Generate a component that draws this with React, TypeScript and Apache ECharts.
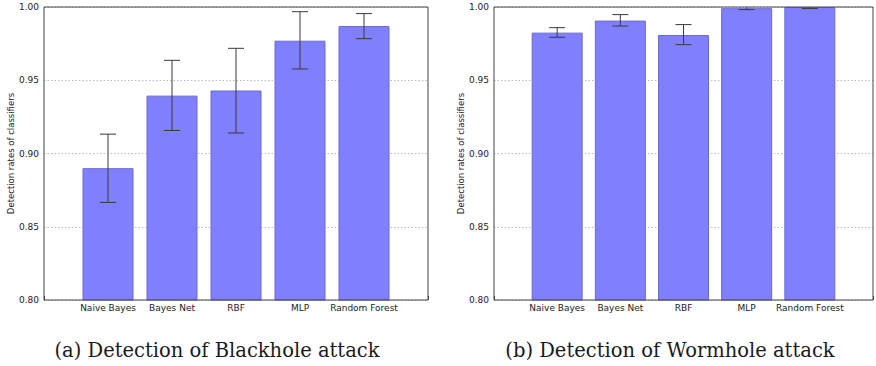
import React, { useEffect, useRef } from "react";
import * as echarts from "echarts";

const classifiers = ["Naive Bayes", "Bayes Net", "RBF", "MLP", "Random Forest"];
const yTicks = [0.8, 0.85, 0.9, 0.95, 1.0];

const blackholeRates = [0.89, 0.9395, 0.943, 0.977, 0.987];
const blackholeLow = [0.8666, 0.9157, 0.914, 0.9577, 0.9784];
const blackholeHigh = [0.9132, 0.9636, 0.9718, 0.9968, 0.9955];

const wormholeRates = [0.9825, 0.9907, 0.9809, 0.9992, 1.0];
const wormholeLow = [0.9793, 0.987, 0.9743, 0.9982, 0.9989];
const wormholeHigh = [0.9859, 0.9948, 0.988, 1.0003, 1.001];

const captions = ["(a) Detection of Blackhole attack", "(b) Detection of Wormhole attack"];
const yAxisTitle = "Detection rates of classifiers";

export default function App() {
  const ref = useRef<HTMLDivElement>(null);

  useEffect(() => {
    if (!ref.current) return;
    const chart = echarts.init(ref.current, undefined, { renderer: "svg" });

    const grids = [
      { left: 44, top: 7, width: 384, height: 293 },
      { left: 494, top: 7, width: 385, height: 293 },
    ];

    const xAxes = grids.map((_, i) => ({
      type: "value",
      gridIndex: i,
      min: -1,
      max: 5,
      interval: 1,
      axisLine: { show: false },
      axisTick: { show: true, inside: true, length: 4, lineStyle: { color: "#444", width: 1 } },
      splitLine: { show: false },
      axisLabel: {
        show: true,
        margin: 3,
        fontSize: 9,
        fontFamily: "DejaVu Sans",
        color: "#222",
        showMinLabel: true,
        showMaxLabel: true,
        formatter: (v: number) => (classifiers[v] !== undefined ? classifiers[v] : ""),
      },
    }));

    const yAxes = grids.map((_, i) => ({
      type: "value",
      gridIndex: i,
      min: yTicks[0],
      max: yTicks[yTicks.length - 1],
      interval: 0.05,
      name: yAxisTitle,
      nameLocation: "middle",
      nameGap: 28,
      nameTextStyle: { fontSize: 8.5, fontFamily: "DejaVu Sans", color: "#222" },
      axisLine: { show: false },
      axisTick: { show: false },
      splitLine: { show: true, lineStyle: { color: "#aaa", type: [1.5, 2], width: 0.8 } },
      axisLabel: {
        margin: 5,
        fontSize: 9,
        fontFamily: "DejaVu Sans",
        color: "#222",
        formatter: (v: number) => v.toFixed(2),
      },
    }));

    const datasets = [
      { rates: blackholeRates, low: blackholeLow, high: blackholeHigh },
      { rates: wormholeRates, low: wormholeLow, high: wormholeHigh },
    ];

    const series: any[] = [];
    datasets.forEach((d, i) => {
      series.push({
        type: "bar",
        xAxisIndex: i,
        yAxisIndex: i,
        barWidth: 51,
        clip: true,
        itemStyle: { color: "#8080ff", borderColor: "#6a6ad0", borderWidth: 1 },
        data: d.rates.map((v, k) => [k, v]),
        z: 2,
      });
      series.push({
        type: "custom",
        xAxisIndex: i,
        yAxisIndex: i,
        clip: true,
        z: 5,
        encode: { x: 0, y: [1, 2] },
        data: d.rates.map((_, k) => [k, d.low[k], d.high[k]]),
        renderItem: (params: any, api: any) => {
          const x = api.value(0);
          const p1 = api.coord([x, api.value(1)]);
          const p2 = api.coord([x, api.value(2)]);
          const cap = 8;
          const style = { stroke: "#3a3a3a", lineWidth: 1 };
          return {
            type: "group",
            children: [
              { type: "line", shape: { x1: p1[0], y1: p1[1], x2: p2[0], y2: p2[1] }, style },
              { type: "line", shape: { x1: p1[0] - cap, y1: p1[1], x2: p1[0] + cap, y2: p1[1] }, style },
              { type: "line", shape: { x1: p2[0] - cap, y1: p2[1], x2: p2[0] + cap, y2: p2[1] }, style },
            ],
          };
        },
      });
    });

    const captionStyle = {
      fontFamily: "DejaVu Serif",
      fontSize: 19.5,
      fontWeight: "normal",
      fill: "#1a1a1a",
      align: "center",
      verticalAlign: "middle",
    };

    chart.setOption({
      animation: false,
      backgroundColor: "#ffffff",
      grid: grids.map((g) => ({
        ...g,
        show: true,
        borderColor: "#444",
        borderWidth: 1,
        backgroundColor: "transparent",
        z: 10,
      })),
      xAxis: xAxes,
      yAxis: yAxes,
      series,
      graphic: [
        { type: "text", x: 217, y: 350, style: { text: captions[0], ...captionStyle } },
        { type: "text", x: 670, y: 350, style: { text: captions[1], ...captionStyle } },
      ],
    });

    return () => chart.dispose();
  }, []);

  return (
    <div
      ref={ref}
      style={{ position: "absolute", left: 0, top: 0, width: 876, height: 366 }}
    />
  );
}
